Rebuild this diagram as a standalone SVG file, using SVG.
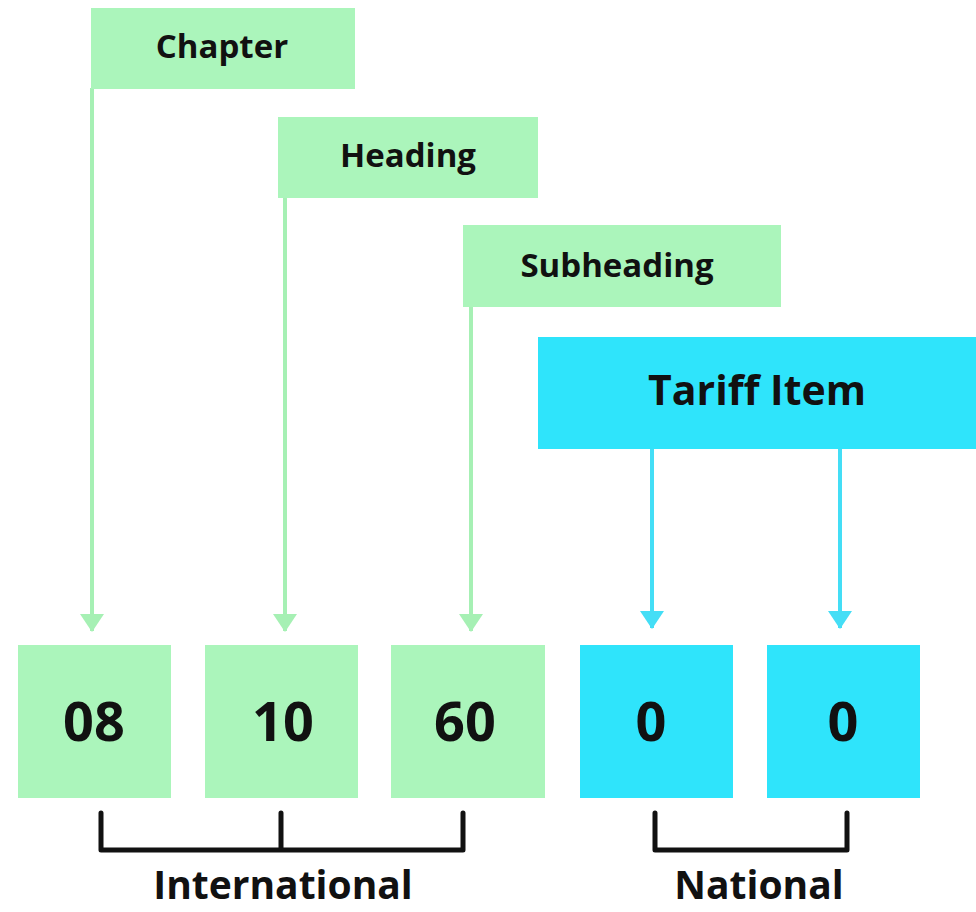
<svg xmlns="http://www.w3.org/2000/svg" width="976" height="912" viewBox="0 0 976 912">
<defs>
<style>
.g{fill:#abf5bb}
.c{fill:#2fe4fb}
.t{font-family:"Open Sans","Liberation Sans",sans-serif;font-weight:700;fill:#111;text-anchor:middle}
.lbl{font-size:33px}
.num{font-size:54px}
.gl{stroke:#a6f0b4;stroke-width:4;fill:none}
.cl{stroke:#44def6;stroke-width:4;fill:none}
.br{stroke:#111;stroke-width:5;fill:none;stroke-linecap:round;stroke-linejoin:round}
</style>
<marker id="ag" viewBox="0 0 18 24" refX="17" refY="12" markerWidth="18" markerHeight="24" markerUnits="userSpaceOnUse" orient="auto">
<path d="M0,0 L18,12 L0,24 Z" fill="#a6f0b4"/>
</marker>
<marker id="ac" viewBox="0 0 18 24" refX="17" refY="12" markerWidth="18" markerHeight="24" markerUnits="userSpaceOnUse" orient="auto">
<path d="M0,0 L18,12 L0,24 Z" fill="#44def6"/>
</marker>
</defs>
<rect width="976" height="912" fill="#fff"/>
<g id="connectors">
<path class="gl" d="M92,88 V631" marker-end="url(#ag)"/>
<path class="gl" d="M285,196 V631" marker-end="url(#ag)"/>
<path class="gl" d="M471,305 V631" marker-end="url(#ag)"/>
<path class="cl" d="M652,449 V628" marker-end="url(#ac)"/>
<path class="cl" d="M840,449 V628" marker-end="url(#ac)"/>
</g>
<g id="chapter"><rect class="g" x="91" y="8" width="264" height="81"/><text class="t lbl" x="222" y="58">Chapter</text></g>
<g id="heading"><rect class="g" x="278" y="117" width="260" height="81"/><text class="t lbl" x="408" y="167">Heading</text></g>
<g id="subheading"><rect class="g" x="463" y="225" width="318" height="82"/><text class="t lbl" x="617" y="277">Subheading</text></g>
<g id="tariff"><rect class="c" x="538" y="337" width="438" height="112"/><text class="t" font-size="41" x="757" y="405">Tariff Item</text></g>
<g id="d08"><rect class="g" x="18" y="645" width="153" height="153"/><text class="t num" x="94" y="741">08</text></g>
<g id="d10"><rect class="g" x="205" y="645" width="153" height="153"/><text class="t num" x="283" y="741">10</text></g>
<g id="d60"><rect class="g" x="391" y="645" width="154" height="153"/><text class="t num" x="465" y="741">60</text></g>
<g id="d0a"><rect class="c" x="580" y="645" width="153" height="153"/><text class="t num" x="651" y="741">0</text></g>
<g id="d0b"><rect class="c" x="767" y="645" width="153" height="153"/><text class="t num" x="843" y="741">0</text></g>
<g id="international"><path class="br" d="M101,813 V850 H463 V813 M281,813 V850"/><text class="t" font-size="39" x="283" y="899">International</text></g>
<g id="national"><path class="br" d="M655,813 V850 H847 V813"/><text class="t" font-size="39" x="759" y="899">National</text></g>
</svg>
